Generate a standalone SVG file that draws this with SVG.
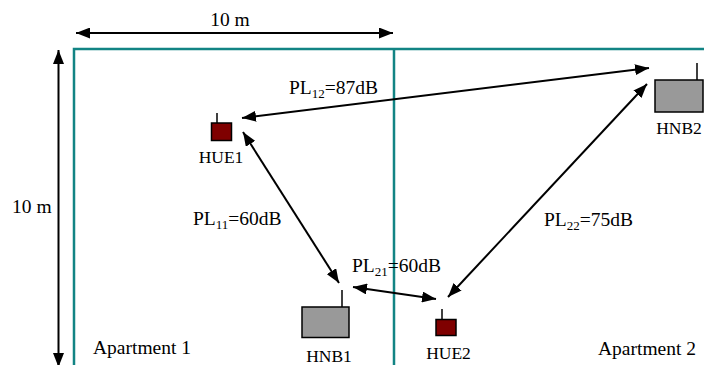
<svg xmlns="http://www.w3.org/2000/svg" width="704" height="365" viewBox="0 0 704 365">
<defs>
<style>
text{font-family:"Liberation Serif","Times New Roman",serif;fill:#000}
.lbl{font-size:19.5px}
.node{font-size:17.5px;text-anchor:middle}
.sub{font-size:13px}
.wall{fill:none;stroke:#128484;stroke-width:2.5}
.arr{stroke:#000;stroke-width:2;fill:none;marker-start:url(#ah);marker-end:url(#ah)}
.hue{fill:#7f0000;stroke:#000;stroke-width:1.5}
.hnb{fill:#999999;stroke:#000;stroke-width:1.5}
.ant{stroke:#000;stroke-width:1.5}
</style>
<marker id="ah" viewBox="0 0 14 11" refX="14" refY="5.5" markerWidth="14" markerHeight="11" markerUnits="userSpaceOnUse" orient="auto-start-reverse">
<path d="M0,0 L14,5.5 L0,11 z" fill="#000"/>
</marker>
</defs>
<rect width="704" height="365" fill="#fff"/>
<g id="walls">
<rect class="wall" x="74" y="49" width="700" height="400"/>
<line class="wall" x1="394" y1="49" x2="394" y2="370"/>
</g>
<g id="dimensions">
<line class="arr" x1="76" y1="33" x2="393" y2="33"/>
<text class="lbl" x="230" y="26" text-anchor="middle">10 m</text>
<line class="arr" x1="58.5" y1="50" x2="58.5" y2="367"/>
<text class="lbl" x="12" y="213">10 m</text>
</g>
<g id="HUE1">
<line class="ant" x1="217" y1="113" x2="217" y2="123"/>
<rect class="hue" x="211.5" y="123" width="20" height="17.5"/>
<text class="node" x="221" y="163">HUE1</text>
</g>
<g id="HNB1">
<line class="ant" x1="342" y1="290" x2="342" y2="307"/>
<rect class="hnb" x="302" y="307" width="47" height="30.5"/>
<text class="node" x="329" y="361.5">HNB1</text>
</g>
<g id="HUE2">
<line class="ant" x1="442" y1="309" x2="442" y2="319.5"/>
<rect class="hue" x="436" y="319.5" width="20" height="16"/>
<text class="node" x="448.5" y="359">HUE2</text>
</g>
<g id="HNB2">
<line class="ant" x1="697" y1="63" x2="697" y2="80"/>
<rect class="hnb" x="655" y="80" width="48" height="32"/>
<text class="node" x="679" y="134">HNB2</text>
</g>
<g id="connectors">
<line class="arr" x1="242" y1="118" x2="649" y2="68"/>
<line class="arr" x1="243" y1="132" x2="339" y2="283"/>
<line class="arr" x1="353" y1="287" x2="436" y2="299"/>
<line class="arr" x1="448" y1="297" x2="647" y2="84"/>
</g>
<g id="labels">
<text class="lbl" x="289" y="94">PL<tspan class="sub" dy="4">12</tspan><tspan dy="-4">=87dB</tspan></text>
<text class="lbl" x="193" y="225">PL<tspan class="sub" dy="4">11</tspan><tspan dy="-4">=60dB</tspan></text>
<text class="lbl" x="352" y="272">PL<tspan class="sub" dy="4">21</tspan><tspan dy="-4">=60dB</tspan></text>
<text class="lbl" x="544" y="226">PL<tspan class="sub" dy="4">22</tspan><tspan dy="-4">=75dB</tspan></text>
<text class="lbl" x="93" y="354">Apartment 1</text>
<text class="lbl" x="598" y="355">Apartment 2</text>
</g>
</svg>
